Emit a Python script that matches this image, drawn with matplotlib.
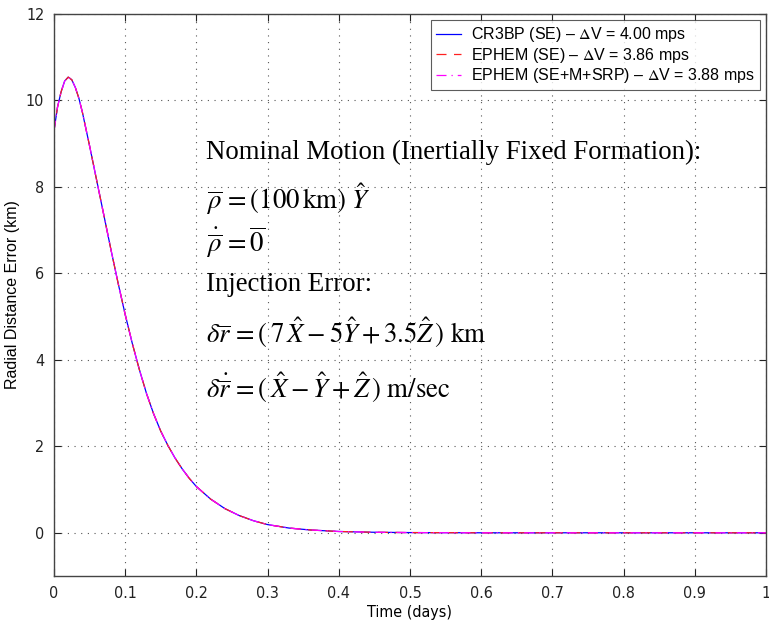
import matplotlib
matplotlib.use("Agg")
import matplotlib.pyplot as plt
from matplotlib import font_manager

# ---------------- data ----------------
time_days = [0.0, 0.005, 0.01, 0.015, 0.02, 0.025, 0.03, 0.035, 0.04, 0.05,
             0.06, 0.07, 0.08, 0.09, 0.10, 0.11, 0.12, 0.13, 0.14, 0.15,
             0.16, 0.17, 0.18, 0.19, 0.20, 0.22, 0.24, 0.26, 0.28, 0.30,
             0.33, 0.36, 0.40, 0.45, 0.50, 0.60, 0.70, 0.80, 0.90, 1.00]
cr3bp_se = [9.30, 9.85, 10.20, 10.45, 10.54, 10.48, 10.30, 10.05, 9.72, 8.95,
            8.15, 7.35, 6.55, 5.78, 5.05, 4.38, 3.77, 3.22, 2.75, 2.35,
            2.02, 1.73, 1.48, 1.26, 1.07, 0.78, 0.56, 0.40, 0.28, 0.19,
            0.11, 0.065, 0.03, 0.012, 0.005, 0.0, 0.0, 0.0, 0.0, 0.0]
ephem_se = [9.30, 9.85, 10.20, 10.45, 10.54, 10.48, 10.30, 10.05, 9.72, 8.95,
            8.15, 7.35, 6.55, 5.78, 5.05, 4.38, 3.77, 3.22, 2.75, 2.35,
            2.02, 1.73, 1.48, 1.26, 1.07, 0.78, 0.56, 0.40, 0.28, 0.19,
            0.11, 0.065, 0.03, 0.012, 0.005, 0.0, 0.0, 0.0, 0.0, 0.0]
ephem_full = [9.30, 9.85, 10.20, 10.45, 10.54, 10.48, 10.30, 10.05, 9.72, 8.95,
              8.15, 7.35, 6.55, 5.78, 5.05, 4.38, 3.77, 3.22, 2.75, 2.35,
              2.02, 1.73, 1.48, 1.26, 1.07, 0.78, 0.56, 0.40, 0.28, 0.19,
              0.11, 0.065, 0.03, 0.012, 0.005, 0.0, 0.0, 0.0, 0.0, 0.0]
series_labels = [r"CR3BP (SE) – $\Delta$V = 4.00 mps",
                 r"EPHEM (SE) – $\Delta$V = 3.86 mps",
                 r"EPHEM (SE+M+SRP) – $\Delta$V = 3.88 mps"]
x_ticks = [0, 0.1, 0.2, 0.3, 0.4, 0.5, 0.6, 0.7, 0.8, 0.9, 1]
x_tick_labels = ["0", "0.1", "0.2", "0.3", "0.4", "0.5", "0.6", "0.7", "0.8", "0.9", "1"]
y_ticks = [0, 2, 4, 6, 8, 10, 12]

# ---------------- fonts ----------------
plt.rcParams['font.family'] = ['Liberation Sans', 'DejaVu Sans']
plt.rcParams['mathtext.fontset'] = 'stix'
plt.rcParams['mathtext.rm'] = 'Liberation Sans'
narrow_fp = font_manager.FontProperties(family='DejaVu Sans', stretch='condensed', size=11.5)

fig = plt.figure(figsize=(7.69, 6.23), dpi=100)
ax = fig.add_axes([0.0702, 0.0754, 0.9258, 0.9021])

ax.plot(time_days, cr3bp_se, color='#0000ff', lw=0.9, ls='-', label=series_labels[0])
ax.plot(time_days, ephem_se, color='#ff2020', lw=0.9, ls=(0, (8, 6)), label=series_labels[1])
ax.plot(time_days, ephem_full, color='#ff00ff', lw=0.9, ls=(0, (8, 4, 1, 4)), label=series_labels[2])

ax.set_xlim(0, 1)
ax.set_ylim(-1, 12)
ax.set_xticks(x_ticks)
ax.set_xticklabels(x_tick_labels)
ax.set_yticks(y_ticks)
for lab in ax.get_xticklabels() + ax.get_yticklabels():
    lab.set_fontproperties(narrow_fp)
ax.tick_params(direction='in', top=True, right=True, length=5, width=0.8, colors='#222222', pad=7)
ax.grid(True, ls=(0, (1, 5)), color='#555555', lw=0.8)
for s in ax.spines.values():
    s.set_color('#444444')
    s.set_linewidth(1.0)

ax.set_xlabel("Time (days)", fontproperties=narrow_fp, labelpad=3)
ax.set_ylabel("Radial Distance Error (km)", fontsize=11.5, family=['Liberation Sans'], labelpad=4)

leg = ax.legend(loc='upper right', fontsize=11.5, frameon=True, fancybox=False,
                edgecolor='#333333', handlelength=1.6, borderpad=0.3,
                labelspacing=0.1, handletextpad=0.6, borderaxespad=0.4)
leg.get_frame().set_linewidth(0.8)

# annotation text
serif = dict(family=['Liberation Serif', 'DejaVu Serif'], fontsize=19.3, va='center', ha='left')
tx = 0.2135
ax.text(tx, 8.80, "Nominal Motion (Inertially Fixed Formation):", **serif)
ax.text(tx, 7.72, r"$\overline{\rho}\, = (100\,\mathrm{km})\ \hat{Y}$", **serif)
ax.text(tx, 6.72, r"$\dot{\overline{\rho}}\, = \overline{0}$", **serif)
ax.text(tx, 5.75, "Injection Error:", **serif)
ax.text(tx, 4.63, r"$\delta\overline{r}\, = (\,7\,\hat{X} - 5\hat{Y} + 3.5\hat{Z}\,)\ \mathrm{km}$", **serif)
ax.text(tx, 3.35, r"$\delta\dot{\overline{r}}\, = (\,\hat{X} - \hat{Y} + \hat{Z}\,)\ \mathrm{m/sec}$", **serif)

fig.savefig("out.png", dpi=100)
